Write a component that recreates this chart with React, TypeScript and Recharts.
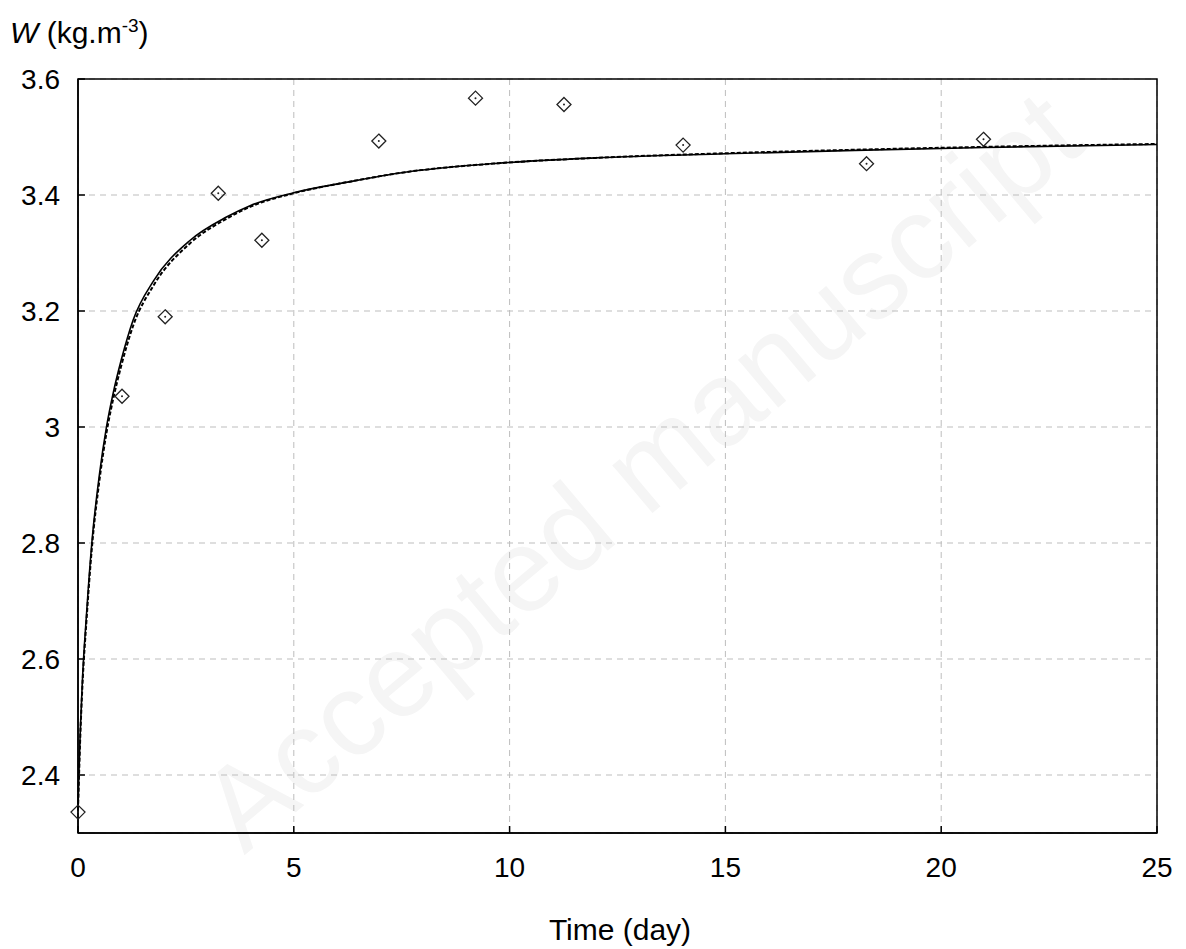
import React from "react"
import {
    ComposedChart,
    Line,
    Scatter,
    XAxis,
    YAxis,
    CartesianGrid,
    ReferenceArea
} from "recharts"

// fitted curves
const fitT = [0, 0.02, 0.05, 0.1, 0.2, 0.32, 0.5, 0.66, 0.82, 1, 1.28, 1.75, 2.6, 3.44, 4, 5, 6.3, 7.46, 9.78, 12, 15, 18, 21, 25]
const fitSolidW = [2.34, 2.40, 2.47, 2.56, 2.68, 2.80, 2.92, 3.00, 3.06, 3.115, 3.185, 3.252, 3.322, 3.362, 3.382, 3.404, 3.423, 3.438, 3.455, 3.464, 3.471, 3.477, 3.482, 3.487]
const fitDashW = [2.34, 2.39, 2.46, 2.55, 2.67, 2.79, 2.91, 2.99, 3.05, 3.105, 3.175, 3.244, 3.317, 3.359, 3.380, 3.403, 3.423, 3.438, 3.455, 3.464, 3.472, 3.478, 3.483, 3.488]

// measured points
const obsT = [0, 1.02, 2.02, 3.25, 4.26, 6.97, 9.21, 11.26, 14.02, 18.27, 20.98]
const obsW = [2.336, 3.053, 3.19, 3.403, 3.322, 3.493, 3.567, 3.556, 3.486, 3.454, 3.496]

const xTicks = [0, 5, 10, 15, 20, 25]
const yTicks = [2.4, 2.6, 2.8, 3, 3.2, 3.4, 3.6]

const solidData = fitT.map((t, i) => ({ t, w: fitSolidW[i] }))
const dashData = fitT.map((t, i) => ({ t, w: fitDashW[i] }))
const obsData = obsT.map((t, i) => ({ t, w: obsW[i] }))

const font = "Arial, 'Liberation Sans', sans-serif"

const Diamond = (props: any) => {
    const { cx, cy } = props
    const r = 7
    return (
        <g>
            <path d={`M${cx},${cy - r} L${cx + r},${cy} L${cx},${cy + r} L${cx - r},${cy} Z`} fill="none" stroke="#222" strokeWidth={1.3} />
            <circle cx={cx} cy={cy} r={1} fill="#222" />
        </g>
    )
}

export default function App() {
    return (
        <div style={{ position: "absolute", left: 0, top: 0, width: 1186, height: 949, background: "#fff", overflow: "hidden", fontFamily: font }}>
            {/* faint watermark */}
            <div style={{
                position: "absolute", left: 640, top: 470, transform: "translate(-50%, -50%) rotate(-40deg)",
                fontSize: 118, color: "#f5f5f5", whiteSpace: "nowrap", lineHeight: 1
            }}>
                Accepted manuscript
            </div>
            <div style={{ position: "absolute", left: 10, top: 11, fontSize: 30, lineHeight: "30px", color: "#000" }}>
                <i>W</i> (kg.m<sup style={{ fontSize: 19 }}>-3</sup>)
            </div>
            <div style={{ position: "absolute", left: 0, top: 0 }}>
                <ComposedChart width={1186} height={949} margin={{ top: 79, right: 29, bottom: 36, left: 0 }}>
                    <CartesianGrid stroke="#bdbdbd" strokeDasharray="6 5" />
                    <XAxis
                        type="number"
                        dataKey="t"
                        domain={[0, 25]}
                        ticks={xTicks}
                        height={80}
                        axisLine={{ stroke: "#000", strokeWidth: 1.5 }}
                        tickLine={{ stroke: "#000", strokeWidth: 1.5 }}
                        tickSize={-7}
                        tickMargin={31}
                        tick={{ fill: "#000", fontSize: 28, fontFamily: font }}
                    />
                    <YAxis
                        type="number"
                        domain={[2.3, 3.6]}
                        ticks={yTicks}
                        width={78}
                        axisLine={{ stroke: "#000", strokeWidth: 1.5 }}
                        tickLine={{ stroke: "#000", strokeWidth: 1.5 }}
                        tickSize={-7}
                        tickMargin={25}
                        tickFormatter={(v: number) => String(Math.round(v * 10) / 10)}
                        tick={{ fill: "#000", fontSize: 28, fontFamily: font }}
                    />
                    <ReferenceArea x1={0} x2={25} y1={2.3} y2={3.6} fill="none" stroke="#000" strokeWidth={1.5} />
                    <Line data={dashData} dataKey="w" type="monotone" stroke="#000" strokeWidth={2} strokeDasharray="4 2" dot={false} isAnimationActive={false} />
                    <Line data={solidData} dataKey="w" type="monotone" stroke="#000" strokeWidth={1.6} dot={false} isAnimationActive={false} />
                    <Scatter data={obsData} dataKey="w" shape={Diamond} isAnimationActive={false} />
                </ComposedChart>
            </div>
            <div style={{ position: "absolute", left: 470, width: 300, top: 915, textAlign: "center", fontSize: 30, lineHeight: "30px", color: "#000" }}>
                Time (day)
            </div>
        </div>
    )
}
